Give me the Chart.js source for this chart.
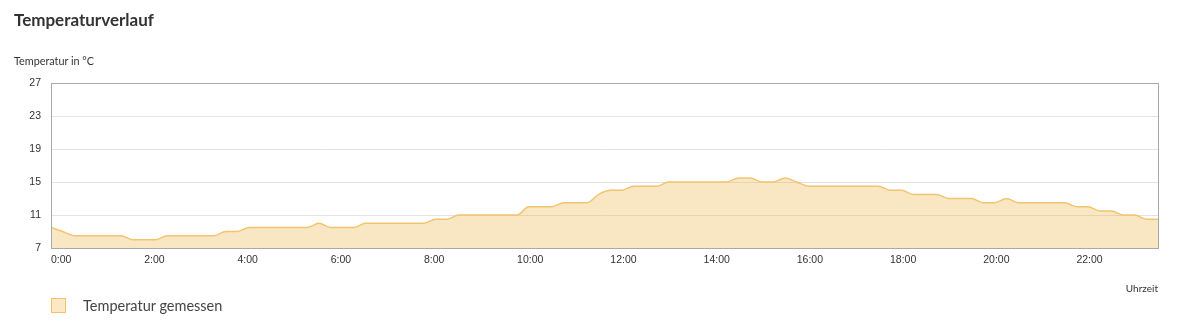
<!DOCTYPE html>
<html>
<head>
<meta charset="utf-8">
<script src="https://cdn.jsdelivr.net/npm/chart.js@4/dist/chart.umd.min.js"></script>
<style>
  body { margin: 0; background: #fff; font-family: Lato, sans-serif; }
  #wrap { position: relative; width: 1178px; height: 336px; }
  #chart { position: absolute; left: 0; top: 0; }
  .title { position: absolute; left: 14px; top: 9px; font-size: 17px; font-weight: bold; color: #333; }
  .unit { position: absolute; left: 14px; top: 54px; font-size: 10.8px; color: #333; }
  .legend { position: absolute; left: 51px; top: 297px; display: flex; align-items: center; font-size: 14.5px; color: #444; }
  .legend .box { width: 13px; height: 13px; background: #fce8c4; border: 1px solid #f2c36c; margin-right: 17px; }
</style>
</head>
<body>
<div id="wrap">
  <canvas id="chart" width="1178" height="336"></canvas>
  <div class="title">Temperaturverlauf</div>
  <div class="unit">Temperatur in °C</div>
  <div class="legend"><span class="box"></span><span>Temperatur gemessen</span></div>
</div>
<script>
// measured every 15 minutes, 0:00 .. 23:45
const temperatures = [
    9.5, 9.0, 8.5, 8.5, 8.5, 8.5, 8.5, 8.0, 8.0, 8.0, 8.5, 8.5, 8.5, 8.5, 8.5, 9.0,
    9.0, 9.5, 9.5, 9.5, 9.5, 9.5, 9.5, 10.0, 9.5, 9.5, 9.5, 10.0, 10.0, 10.0, 10.0, 10.0,
    10.0, 10.5, 10.5, 11.0, 11.0, 11.0, 11.0, 11.0, 11.0, 12.0, 12.0, 12.0, 12.5, 12.5, 12.5, 13.5,
    14.0, 14.0, 14.5, 14.5, 14.5, 15.0, 15.0, 15.0, 15.0, 15.0, 15.0, 15.5, 15.5, 15.0, 15.0, 15.5,
    15.0, 14.5, 14.5, 14.5, 14.5, 14.5, 14.5, 14.5, 14.0, 14.0, 13.5, 13.5, 13.5, 13.0, 13.0, 13.0,
    12.5, 12.5, 13.0, 12.5, 12.5, 12.5, 12.5, 12.5, 12.0, 12.0, 11.5, 11.5, 11.0, 11.0, 10.5, 10.5
];
const tickLabels = ['0:00', '2:00', '4:00', '6:00', '8:00', '10:00', '12:00', '14:00', '16:00', '18:00', '20:00', '22:00'];
const yTicks = [7, 11, 15, 19, 23, 27];

const times = [];
for (let h = 0; h < 24; h++) {
    ['00', '15', '30', '45'].forEach(m => times.push(`${h}:${m}`));
}

const frame = {
    id: 'frame',
    afterDatasetsDraw(chart) {
        const { ctx, chartArea: a } = chart;
        ctx.save();
        ctx.strokeStyle = '#a9a9a9';
        ctx.lineWidth = 1;
        ctx.strokeRect(Math.round(a.left) + 0.5, Math.round(a.top) + 0.5,
            Math.round(a.right - a.left), Math.round(a.bottom - a.top));
        ctx.restore();
    }
};

new Chart(document.getElementById('chart'), {
    type: 'line',
    data: {
        labels: times,
        datasets: [{
            label: 'Temperatur gemessen',
            data: temperatures,
            borderColor: '#f3c470',
            borderWidth: 1.5,
            backgroundColor: 'rgba(238,184,81,0.35)',
            fill: 'origin',
            pointRadius: 0,
            cubicInterpolationMode: 'monotone'
        }]
    },
    options: {
        responsive: false,
        animation: false,
        layout: { padding: { top: 83, right: 20, left: 0, bottom: 0 } },
        plugins: { legend: { display: false }, tooltip: { enabled: false } },
        scales: {
            x: {
                grid: { display: false, drawTicks: false },
                border: { display: false },
                ticks: {
                    autoSkip: false,
                    maxRotation: 0,
                    align: 'start',
                    padding: 6,
                    color: '#333',
                    font: { family: 'Liberation Sans', size: 10.5 },
                    callback(v) {
                        const t = this.getLabelForValue(v);
                        return tickLabels.includes(t) ? t : null;
                    }
                },
                title: {
                    display: true,
                    text: 'Uhrzeit',
                    align: 'end',
                    color: '#333',
                    font: { family: 'Lato', size: 10 },
                    padding: { top: 0, bottom: 41 }
                },
                afterFit(s) { s.height = 88; }
            },
            y: {
                min: yTicks[0],
                max: yTicks[yTicks.length - 1],
                afterBuildTicks(s) { s.ticks = yTicks.map(v => ({ value: v })); },
                grid: { color: '#e2e2e2', drawTicks: false },
                border: { display: false },
                ticks: {
                    padding: 10,
                    color: '#333',
                    font: { family: 'Liberation Sans', size: 10.5 }
                },
                afterFit(s) { s.width = 51; }
            }
        }
    },
    plugins: [frame]
});
</script>
</body>
</html>
